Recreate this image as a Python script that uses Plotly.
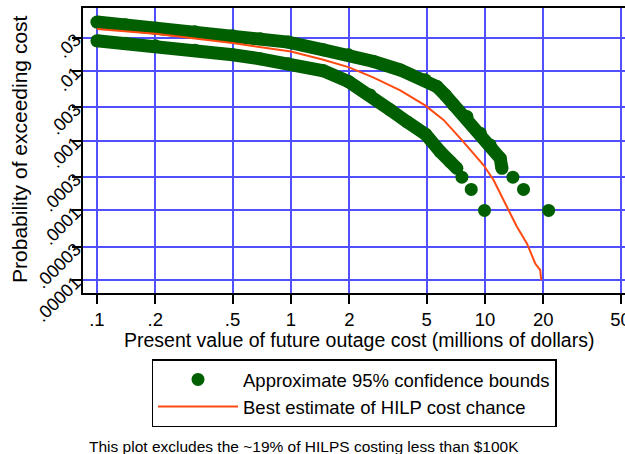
import plotly.graph_objects as go

# ---- data ----
upper_x = [0.1, 0.14, 0.2, 0.32, 0.5, 0.695, 0.968, 1.47, 1.98, 2.67, 3.66, 4.92,
           5.66, 6.24, 6.89, 8.08, 9.46, 10.65, 11.99, 12.24]
upper_y = [0.0500, 0.0457, 0.0410, 0.0363, 0.0318, 0.0288, 0.0258, 0.0200, 0.0170,
           0.0136, 0.0103, 0.00743, 0.00595, 0.00452, 0.00325, 0.00221, 0.00128,
           0.000868, 0.000559, 0.000402]
upper_tail_x = [13.94, 15.81, 21.3]
upper_tail_y = [0.0003, 0.0002, 0.0001]

lower_x = [0.1, 0.14, 0.2, 0.32, 0.5, 0.695, 0.968, 1.47, 1.98, 2.56, 3.25, 3.96,
           4.95, 5.88, 6.62, 7.17]
lower_y = [0.0269, 0.0248, 0.0228, 0.0197, 0.0170, 0.01487, 0.0126, 0.0100, 0.00702,
           0.00452, 0.00276, 0.00187, 0.00123, 0.000695, 0.000500, 0.000402]
lower_tail_x = [7.61, 8.50, 9.95]
lower_tail_y = [0.0003, 0.0002, 0.0001]

best_x = [0.1, 0.2, 0.5, 1.0, 1.47, 1.98, 2.67, 3.66, 4.92, 6.12, 7.61, 9.83, 11.08,
          12.24, 14.62, 16.46, 18.17, 19.28, 19.51]
best_y = [0.0397, 0.0340, 0.0250, 0.0189, 0.01438, 0.0113, 0.00801, 0.00525, 0.00320,
          0.00198, 0.00102, 0.000448, 0.000273, 0.000157, 5.84e-5, 3.37e-5, 1.74e-5,
          1.40e-5, 1.0e-5]

x_tickvals = [0.1, 0.2, 0.5, 1, 2, 5, 10, 20, 50]
x_ticktext = [".1", ".2", ".5", "1", "2", "5", "10", "20", "50"]
y_tickvals = [1e-5, 3e-5, 1e-4, 3e-4, 1e-3, 3e-3, 1e-2, 3e-2]
y_ticktext = [".00001", ".00003", ".0001", ".0003", ".001", ".003", ".01", ".03"]

x_title = "Present value of future outage cost (millions of dollars)"
y_title = "Probability of exceeding cost"
note = "This plot excludes the ~19% of HILPS costing less than $100K"

GREEN = "#005f00"
RED = "#ff4a10"
GRID = "rgb(80,80,255)"
FONT = "Liberation Sans, Arial, sans-serif"

fig = go.Figure()
# dense bands of bound points
for bx, by in [(upper_x, upper_y), (lower_x, lower_y)]:
    fig.add_trace(go.Scatter(x=bx, y=by, mode="lines", showlegend=False,
                             line=dict(color=GREEN, width=13), hoverinfo="skip"))
fig.add_trace(go.Scatter(
    x=upper_x + upper_tail_x + lower_x + lower_tail_x,
    y=upper_y + upper_tail_y + lower_y + lower_tail_y,
    mode="markers", name="Approximate 95% confidence bounds",
    marker=dict(color=GREEN, size=13), legendgroup="a"))
fig.add_trace(go.Scatter(x=best_x, y=best_y, mode="lines",
                         name="Best estimate of HILP cost chance",
                         line=dict(color=RED, width=2), legendgroup="b"))

axis_common = dict(type="log", showgrid=True, gridcolor=GRID, gridwidth=1.5,
                   zeroline=False, showline=True, linecolor="black", linewidth=1.5,
                   ticks="outside", ticklen=9, tickwidth=1.5, tickcolor="black",
                   ticklabeloverflow="allow")

fig.update_layout(
    width=625, height=454,
    margin=dict(l=83, r=0, t=8, b=161, autoexpand=False),
    paper_bgcolor="white", plot_bgcolor="white",
    font=dict(family=FONT, color="black"),
    xaxis=dict(axis_common, range=[-1.0716, 1.722], tickvals=x_tickvals,
               ticktext=x_ticktext, mirror=True, tickfont=dict(size=18.5)),
    yaxis=dict(axis_common, range=[-5.182, -1.1], tickvals=y_tickvals,
               ticktext=y_ticktext, tickangle=-45, tickfont=dict(size=18),
               ticklabelstandoff=-7),
    legend=dict(x=0.5, xanchor="center", y=-0.233, yanchor="top",
                bordercolor="black", borderwidth=1.5, font=dict(size=18.5),
                itemwidth=80, tracegroupgap=0, bgcolor="white"),
    annotations=[
        dict(text=x_title, xref="paper", yref="paper", x=(358.5 - 83) / 542,
             y=(292.7 - 340) / 284.4, xanchor="center", yanchor="middle",
             showarrow=False, font=dict(size=19.5)),
        dict(text=y_title, xref="paper", yref="paper", x=(20 - 83) / 542,
             y=0.502, xanchor="center", yanchor="middle", textangle=-90,
             showarrow=False, font=dict(size=21)),
        dict(text=note, xref="paper", yref="paper", x=0.4077, y=-0.539,
             xanchor="center", yanchor="middle", showarrow=False,
             font=dict(size=15.5)),
    ],
)

fig.write_html("out.html")
